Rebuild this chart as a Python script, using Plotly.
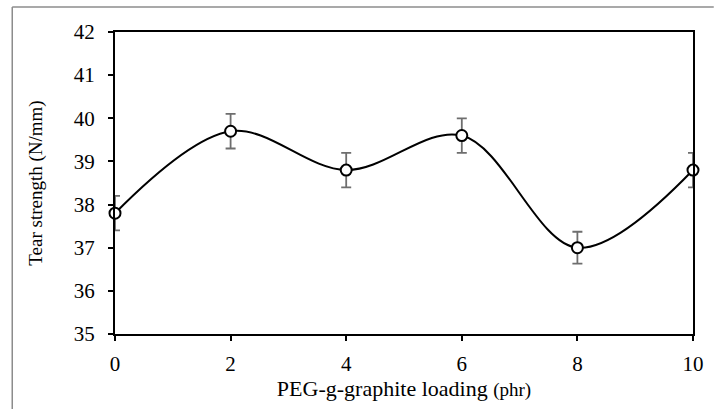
import plotly.graph_objects as go

loading = [0, 2, 4, 6, 8, 10]
tear_strength = [37.8, 39.7, 38.8, 39.6, 37.0, 38.8]
error = [0.4, 0.4, 0.4, 0.4, 0.37, 0.4]
x_ticks = [0, 2, 4, 6, 8, 10]
y_ticks = [35, 36, 37, 38, 39, 40, 41, 42]

FONT = "Liberation Serif, Times New Roman, serif"

fig = go.Figure()
fig.add_trace(go.Scatter(
    x=loading, y=tear_strength,
    mode="lines+markers",
    line=dict(color="black", width=2, shape="spline", smoothing=1),
    marker=dict(size=11, color="white", line=dict(color="black", width=2)),
    error_y=dict(type="data", array=error, visible=True, color="#6e6e6e", thickness=1.8, width=5),
    cliponaxis=False,
    showlegend=False,
))

L, R, T, B = 115, 16, 32, 75
W, H = 716, 409
pw, ph = W - L - R, H - T - B

fig.update_layout(
    width=W, height=H,
    margin=dict(l=L, r=R, t=T, b=B),
    paper_bgcolor="white", plot_bgcolor="white",
    font=dict(family=FONT, color="black", size=19),
    xaxis=dict(
        range=[0, 10], tickvals=x_ticks, showgrid=False, zeroline=False,
        showline=True, linecolor="black", linewidth=2, mirror=True,
        ticks="outside", ticklen=5, tickwidth=2, tickcolor="black",
        tickfont=dict(size=21), ticklabelstandoff=5,
        title=dict(text="PEG-g-graphite loading <span style='font-size:19px'>(phr)</span>",
                   font=dict(size=22), standoff=4),
    ),
    yaxis=dict(
        range=[35, 42], tickvals=y_ticks, showgrid=False, zeroline=False,
        showline=True, linecolor="black", linewidth=2, mirror=True,
        ticks="outside", ticklen=5, tickwidth=2, tickcolor="black",
        tickfont=dict(size=21), ticklabelstandoff=9,
        title=dict(text="Tear strength (N/mm)", font=dict(size=19), standoff=26),
    ),
)

# outer frame (top and left edges visible)
x_left = (11 - L) / pw
y_top = (H - B - 7) / ph
fig.add_shape(type="line", xref="paper", yref="paper",
              x0=x_left, x1=(W + 5 - L) / pw, y0=y_top, y1=y_top,
              line=dict(color="#8c8c8c", width=1.5))
fig.add_shape(type="line", xref="paper", yref="paper",
              x0=x_left, x1=x_left, y0=y_top, y1=-(B + 5) / ph,
              line=dict(color="#8c8c8c", width=1.5))

fig.write_html("out.html")
